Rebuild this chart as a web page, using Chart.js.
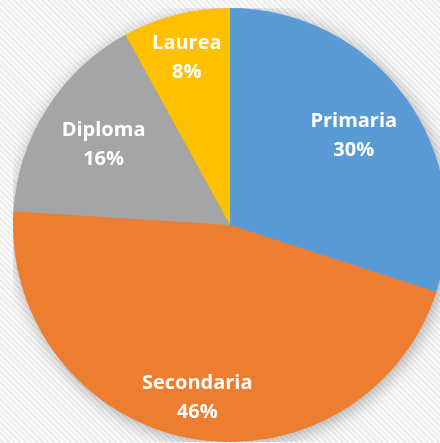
<!DOCTYPE html>
<html>
<head>
<meta charset="utf-8">
<script src="https://cdn.jsdelivr.net/npm/chart.js@4"></script>
<style>
  html, body { margin: 0; padding: 0; width: 440px; height: 443px; overflow: hidden; }
  body {
    background-color: #f6f6f6;
    background-image: repeating-linear-gradient(45deg, #fbfbfb 0px, #fbfbfb 2px, #ededed 2px, #ededed 4px);
    position: relative;
  }
  #wrap { position: absolute; left: 13px; top: 8px; width: 434px; height: 434px; }
</style>
</head>
<body>
<div id="wrap"><canvas id="c" width="434" height="434"></canvas></div>
<script>
const categories = ["Primaria", "Secondaria", "Diploma", "Laurea"];
const values = [30, 46, 16, 8];
const percentLabels = ["30%", "46%", "16%", "8%"];
const colors = ["#5B9BD5", "#ED7D31", "#A5A5A5", "#FFC000"];
const labelRadiusFraction = [0.705, 0.806, 0.69, 0.80];

const shadowPlugin = {
  id: 'pieShadow',
  beforeDatasetsDraw(chart) {
    const arc = chart.getDatasetMeta(0).data[0];
    if (!arc) return;
    const ctx = chart.ctx;
    ctx.save();
    ctx.shadowColor = 'rgba(0,0,0,0.35)';
    ctx.shadowBlur = 18;
    ctx.shadowOffsetX = 2;
    ctx.shadowOffsetY = 3;
    ctx.fillStyle = '#999';
    ctx.beginPath();
    ctx.arc(arc.x, arc.y, arc.outerRadius - 1, 0, Math.PI * 2);
    ctx.fill();
    ctx.restore();
  }
};

const labelPlugin = {
  id: 'sliceLabels',
  afterDatasetsDraw(chart) {
    const meta = chart.getDatasetMeta(0);
    const ctx = chart.ctx;
    ctx.save();
    ctx.fillStyle = '#ffffff';
    ctx.textAlign = 'center';
    ctx.textBaseline = 'middle';
    ctx.font = 'bold 20px "Open Sans", sans-serif';
    meta.data.forEach((arc, i) => {
      const mid = (arc.startAngle + arc.endAngle) / 2;
      const r = arc.outerRadius * labelRadiusFraction[i];
      const x = arc.x + Math.cos(mid) * r;
      const y = arc.y + Math.sin(mid) * r;
      ctx.fillText(categories[i], x, y - 14);
      ctx.fillText(percentLabels[i], x, y + 15);
    });
    ctx.restore();
  }
};

new Chart(document.getElementById('c'), {
  type: 'pie',
  data: {
    labels: categories,
    datasets: [{
      data: values,
      backgroundColor: colors,
      borderWidth: 0
    }]
  },
  options: {
    responsive: false,
    animation: false,
    layout: { padding: 0 },
    plugins: {
      legend: { display: false },
      tooltip: { enabled: false }
    }
  },
  plugins: [shadowPlugin, labelPlugin]
});
</script>
</body>
</html>
